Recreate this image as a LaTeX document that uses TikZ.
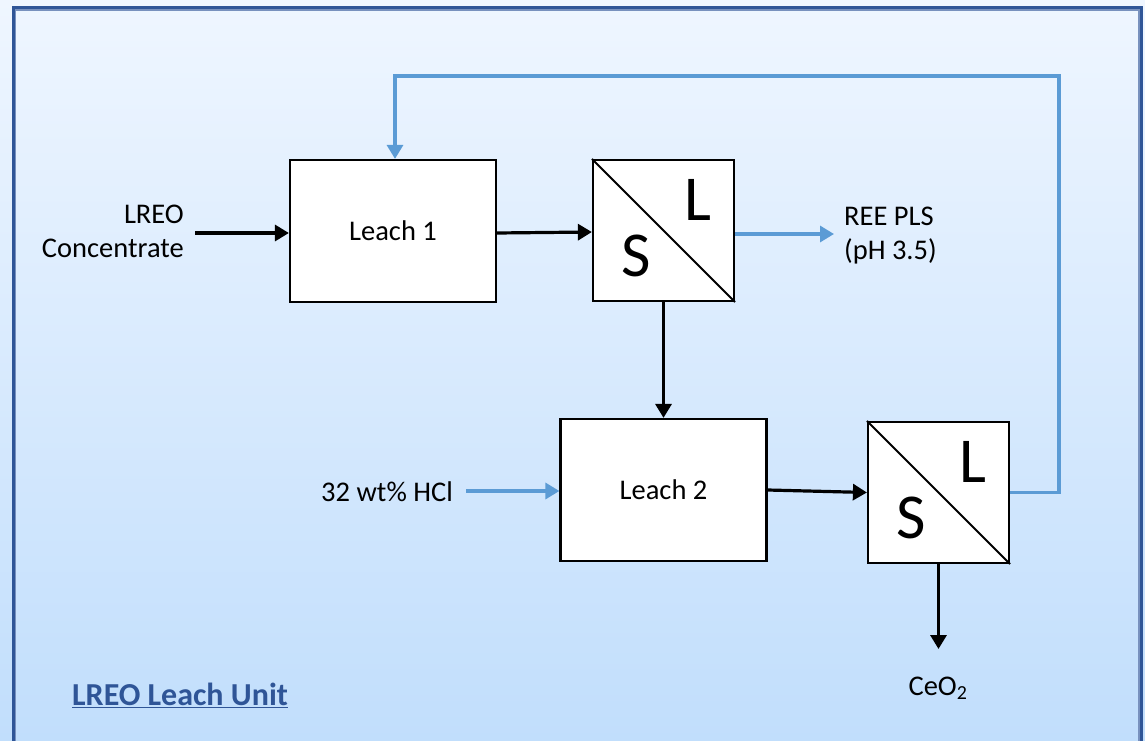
\documentclass[tikz,border=0pt]{standalone}
\usepackage{fontspec}
\setmainfont{Carlito}
\usetikzlibrary{arrows.meta,calc}
\definecolor{bgtop}{RGB}{239,246,255}
\definecolor{bgbot}{RGB}{193,222,252}
\definecolor{frameblue}{RGB}{47,85,151}
\definecolor{frameinner}{RGB}{120,145,190}
\definecolor{flowblue}{RGB}{91,155,213}
\tikzset{
  unit/.style={draw=black, line width=2.2pt, fill=white, minimum width=206pt, minimum height=142pt, inner sep=0pt, font=\fontsize{28.5}{34}\selectfont},
  sepbox/.style={draw=black, line width=2.2pt, fill=white, minimum width=141pt, minimum height=141pt, inner sep=0pt},
  big/.style={font=\fontsize{64}{70}\selectfont, inner sep=0pt},
  lbl/.style={font=\fontsize{28.5}{34}\selectfont, inner sep=0pt},
  flow/.style={line width=3.2pt, -{Triangle[length=14pt,width=16pt]}},
  blueflow/.style={flow, draw=flowblue, color=flowblue},
}
\begin{document}
\begin{tikzpicture}[x=1pt,y=-1pt]
  % page background with vertical gradient
  \shade[top color=bgtop, bottom color=bgbot] (0,0) rectangle (1145,741);
  \useasboundingbox (0,0) rectangle (1145,741);
  % frame, open at the bottom
  \draw[frameinner, line width=1.2pt] (15,760) -- (15,10) -- (1139,10) -- (1139,760);
  \draw[frameblue, line width=3pt] (13,760) -- (13,8) -- (1141,8) -- (1141,760);

  % process units
  \node[unit] (leach1) at (393,231) {Leach 1};
  \node[unit] (leach2) at (663.5,490) {Leach 2};
  \node[sepbox] (sl1) at (663.5,230.5) {};
  \node[sepbox] (sl2) at (938.5,492.5) {};
  \foreach \s in {sl1,sl2}{
    \draw[line width=1.8pt] (\s.north west) -- (\s.south east);
    \node[big] (\s-S) at ($(\s.north west)+(44.5,97)$) {S};
    \node[big] (\s-L) at ($(\s.north west)+(106,41)$) {L};
  }

  % stream labels
  \node[lbl, align=right, anchor=east] (feed) at (184,231) {LREO\\Concentrate};
  \node[lbl, align=left, anchor=west] (pls) at (844,236) {REE PLS\\(pH 3.5)};
  \node[lbl, anchor=east] (hcl) at (453,492) {32 wt\% HCl};
  \node[lbl] (ceo2) at (938,688) {CeO\textsubscript{2}};
  \node[inner sep=0pt, anchor=west, text=frameblue, font=\fontsize{32}{36}\selectfont\bfseries] (title) at (72,695) {\underline{LREO Leach Unit}};

  % connection points
  \coordinate (feedEnd) at (195,233);
  \coordinate (plsEnd) at (834,234);
  \coordinate (hclEnd) at (466,491);
  \coordinate (ceoEnd) at (938.5,649);
  \coordinate (rtop) at (1059,76);

  % streams
  \draw[flow] (feedEnd) -- (leach1.west |- feedEnd);
  \draw[flow] ($(leach1.east)+(0,2)$) -- ($(sl1.west)+(0,1.5)$);
  \draw[blueflow] (sl1.east |- plsEnd) -- (plsEnd);
  \draw[flow] (sl1.south) -- (leach2.north);
  \draw[blueflow] (hclEnd) -- (leach2.west |- hclEnd);
  \draw[flow] (leach2.east) -- (sl2.west);
  \draw[flow] (sl2.south) -- (ceoEnd);
  \draw[blueflow] (sl2.east) -| (rtop) -| ($(leach1.north)+(2,0)$);
\end{tikzpicture}
\end{document}
